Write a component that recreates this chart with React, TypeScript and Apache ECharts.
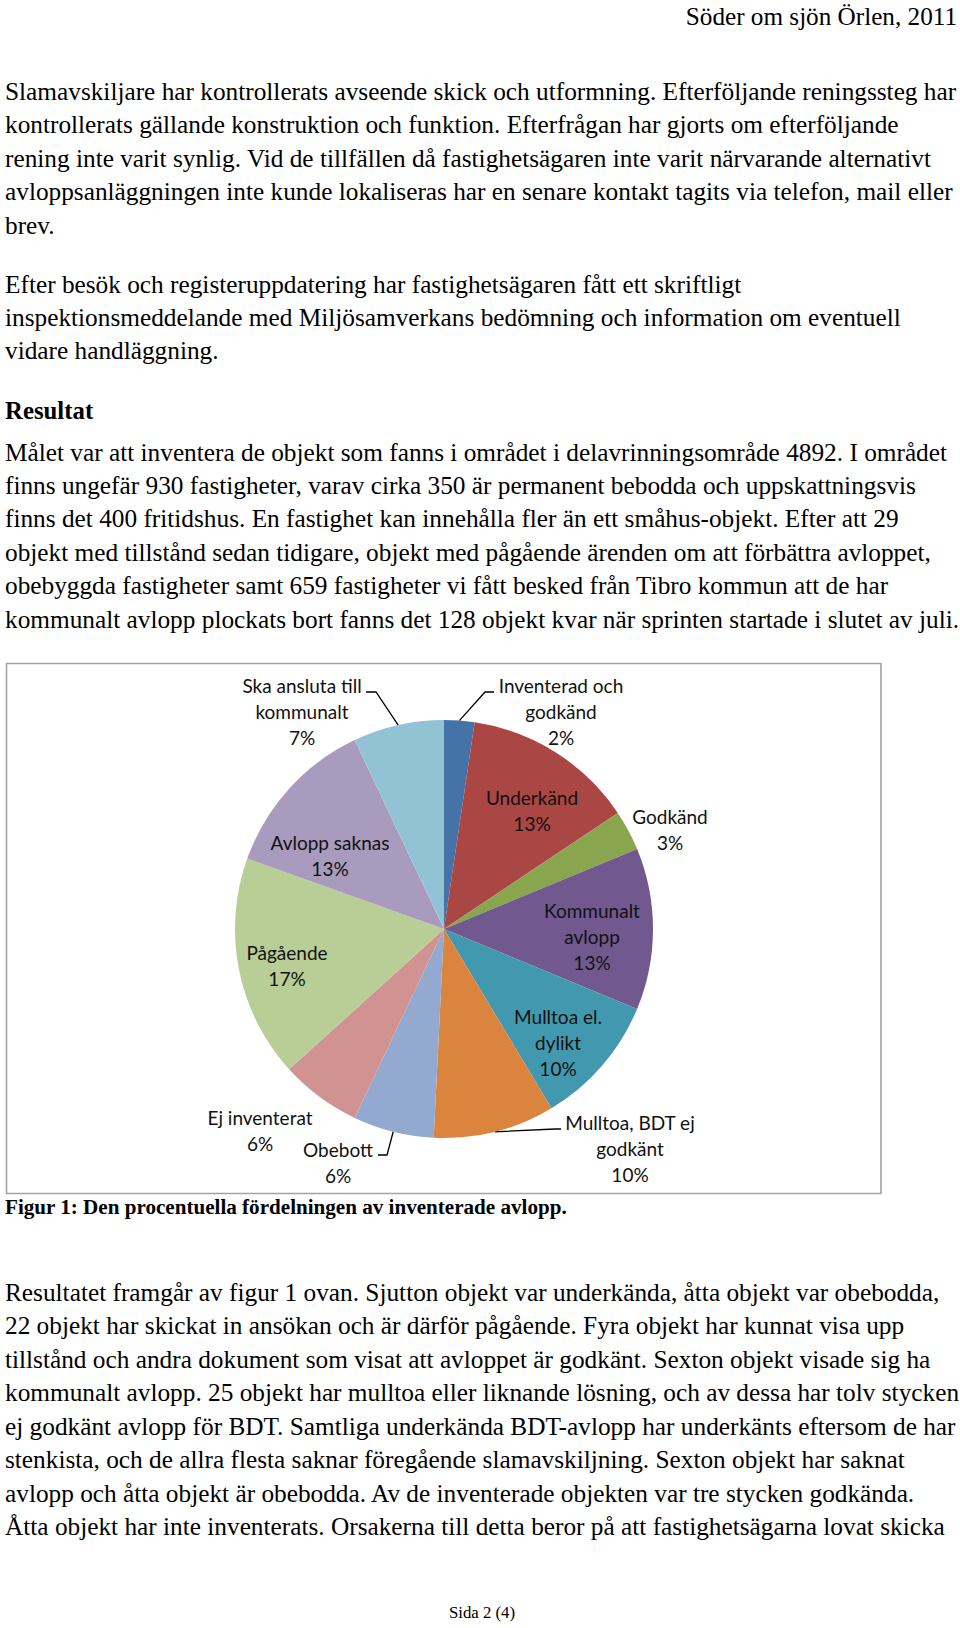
import React, { useEffect, useRef } from 'react';
import * as echarts from 'echarts';

// ---------- document text ----------
const headerText = 'Söder om sjön Örlen, 2011';
const para1 = [
  'Slamavskiljare har kontrollerats avseende skick och utformning. Efterföljande reningssteg har',
  'kontrollerats gällande konstruktion och funktion. Efterfrågan har gjorts om efterföljande',
  'rening inte varit synlig. Vid de tillfällen då fastighetsägaren inte varit närvarande alternativt',
  'avloppsanläggningen inte kunde lokaliseras har en senare kontakt tagits via telefon, mail eller',
  'brev.',
];
const para2 = [
  'Efter besök och registeruppdatering har fastighetsägaren fått ett skriftligt',
  'inspektionsmeddelande med Miljösamverkans bedömning och information om eventuell',
  'vidare handläggning.',
];
const headingText = 'Resultat';
const para3 = [
  'Målet var att inventera de objekt som fanns i området i delavrinningsområde 4892. I området',
  'finns ungefär 930 fastigheter, varav cirka 350 är permanent bebodda och uppskattningsvis',
  'finns det 400 fritidshus. En fastighet kan innehålla fler än ett småhus-objekt. Efter att 29',
  'objekt med tillstånd sedan tidigare, objekt med pågående ärenden om att förbättra avloppet,',
  'obebyggda fastigheter samt 659 fastigheter vi fått besked från Tibro kommun att de har',
  'kommunalt avlopp plockats bort fanns det 128 objekt kvar när sprinten startade i slutet av juli.',
];
const captionText = 'Figur 1: Den procentuella fördelningen av inventerade avlopp.';
const para4 = [
  'Resultatet framgår av figur 1 ovan. Sjutton objekt var underkända, åtta objekt var obebodda,',
  '22 objekt har skickat in ansökan och är därför pågående. Fyra objekt har kunnat visa upp',
  'tillstånd och andra dokument som visat att avloppet är godkänt. Sexton objekt visade sig ha',
  'kommunalt avlopp. 25 objekt har mulltoa eller liknande lösning, och av dessa har tolv stycken',
  'ej godkänt avlopp för BDT. Samtliga underkända BDT-avlopp har underkänts eftersom de har',
  'stenkista, och de allra flesta saknar föregående slamavskiljning. Sexton objekt har saknat',
  'avlopp och åtta objekt är obebodda. Av de inventerade objekten var tre stycken godkända.',
  'Åtta objekt har inte inventerats. Orsakerna till detta beror på att fastighetsägarna lovat skicka',
];
const footerText = 'Sida 2 (4)';

// ---------- chart data ----------
const categories = [
  'Inventerad och\ngodkänd',
  'Underkänd',
  'Godkänd',
  'Kommunalt\navlopp',
  'Mulltoa el.\ndylikt',
  'Mulltoa, BDT ej\ngodkänt',
  'Obebott',
  'Ej inventerat',
  'Pågående',
  'Avlopp saknas',
  'Ska ansluta till\nkommunalt',
];
const counts = [3, 17, 4, 16, 13, 12, 8, 8, 22, 16, 9];
const colors = [
  '#4572A7', '#AA4643', '#89A54E', '#71588F', '#4198AF', '#DB843D',
  '#93A9CF', '#D19392', '#B9CD96', '#A99BBD', '#92C3D4',
];

// ---------- layout (label placement relative to pie centre) ----------
const CX = 444;
const CY = 929;
const R = 209;
const labelOffsets = [
  [117, -218], [88, -119], [226, -100], [148, 7], [114, 113], [186, 219],
  [-106, 233], [-184, 201], [-157, 36], [-114, -74], [-142, -218],
];
const leaderElbows: (number[][] | null)[] = [
  [[41, -237], [50, -237]], null, null, null, null, [[111, 200], [117, 200]],
  [[-57, 226], [-66, 226]], null, null, null, [[-68, -237], [-78, -237]],
];

const SERIF = '"Liberation Serif", "Times New Roman", serif';
const BODY_FS = 25.3;
const LINE_STEP = 33.45;

function textEl(text: string, x: number, y: number, font: string, align = 'left') {
  return {
    type: 'text',
    x,
    y,
    silent: true,
    style: {
      text,
      font,
      fill: '#000',
      align,
      verticalAlign: 'middle',
      textAlign: align,
      textVerticalAlign: 'middle',
    },
  };
}

function paraEls(lines: string[], startY: number) {
  return lines.map((l, i) =>
    textEl(l, 5, startY + i * LINE_STEP, `normal ${BODY_FS}px ${SERIF}`)
  );
}

export default function App() {
  const ref = useRef<HTMLDivElement>(null);
  useEffect(() => {
    if (!ref.current) return;
    const chart = echarts.init(ref.current, null, { renderer: 'svg' });
    const total = counts.reduce((a, b) => a + b, 0);
    const cum: number[] = [];
    counts.reduce((acc, v, i) => {
      cum[i] = acc;
      return acc + v;
    }, 0);

    const graphics: any[] = [
      textEl(headerText, 957, 16, `normal 25.2px ${SERIF}`, 'right'),
      ...paraEls(para1, 91),
      ...paraEls(para2, 283.5),
      textEl(headingText, 5, 410, `bold 24.8px ${SERIF}`),
      ...paraEls(para3, 451.5),
      {
        type: 'rect',
        silent: true,
        shape: { x: 6.5, y: 663.5, width: 874.5, height: 530 },
        style: { fill: 'none', stroke: '#A3A3A3', lineWidth: 1.6 },
      },
      textEl(captionText, 5, 1207, `bold 21.1px ${SERIF}`),
      ...paraEls(para4, 1292),
      textEl(footerText, 482, 1612, `normal 16.8px ${SERIF}`, 'center'),
    ];

    chart.setOption({
      animation: false,
      backgroundColor: '#fff',
      graphic: { elements: graphics },
      series: [
        {
          type: 'pie',
          center: [CX, CY],
          radius: R,
          startAngle: 90,
          clockwise: true,
          avoidLabelOverlap: false,
          percentPrecision: 0,
          silent: true,
          emphasis: { disabled: true },
          itemStyle: { borderWidth: 0 },
          label: {
            show: true,
            formatter: '{b}\n{d}%',
            color: '#111',
            fontFamily: 'Lato, "Noto Sans", sans-serif',
            fontSize: 19,
            lineHeight: 26,
            align: 'center',
          },
          labelLine: {
            smooth: false,
            lineStyle: { color: '#000', width: 1.3 },
          },
          labelLayout: (params: any) => {
            const i = params.dataIndex;
            const [dx, dy] = labelOffsets[i];
            const res: any = {
              x: CX + dx,
              y: CY + dy,
              align: 'center',
              verticalAlign: 'middle',
            };
            const elb = leaderElbows[i];
            if (elb) {
              const mid = ((cum[i] + counts[i] / 2) / total) * Math.PI * 2;
              const edge = [CX + R * Math.sin(mid), CY - R * Math.cos(mid)];
              res.labelLinePoints = [
                edge,
                [CX + elb[0][0], CY + elb[0][1]],
                [CX + elb[1][0], CY + elb[1][1]],
              ];
            }
            return res;
          },
          data: categories.map((name, i) => ({
            name,
            value: counts[i],
            itemStyle: { color: colors[i] },
            label: { position: leaderElbows[i] ? 'outside' : 'inside' },
            labelLine: { show: !!leaderElbows[i] },
          })),
        },
      ],
    });
    return () => chart.dispose();
  }, []);

  return (
    <div
      ref={ref}
      style={{ position: 'absolute', left: 0, top: 0, width: 960, height: 1628, background: '#fff' }}
    />
  );
}
